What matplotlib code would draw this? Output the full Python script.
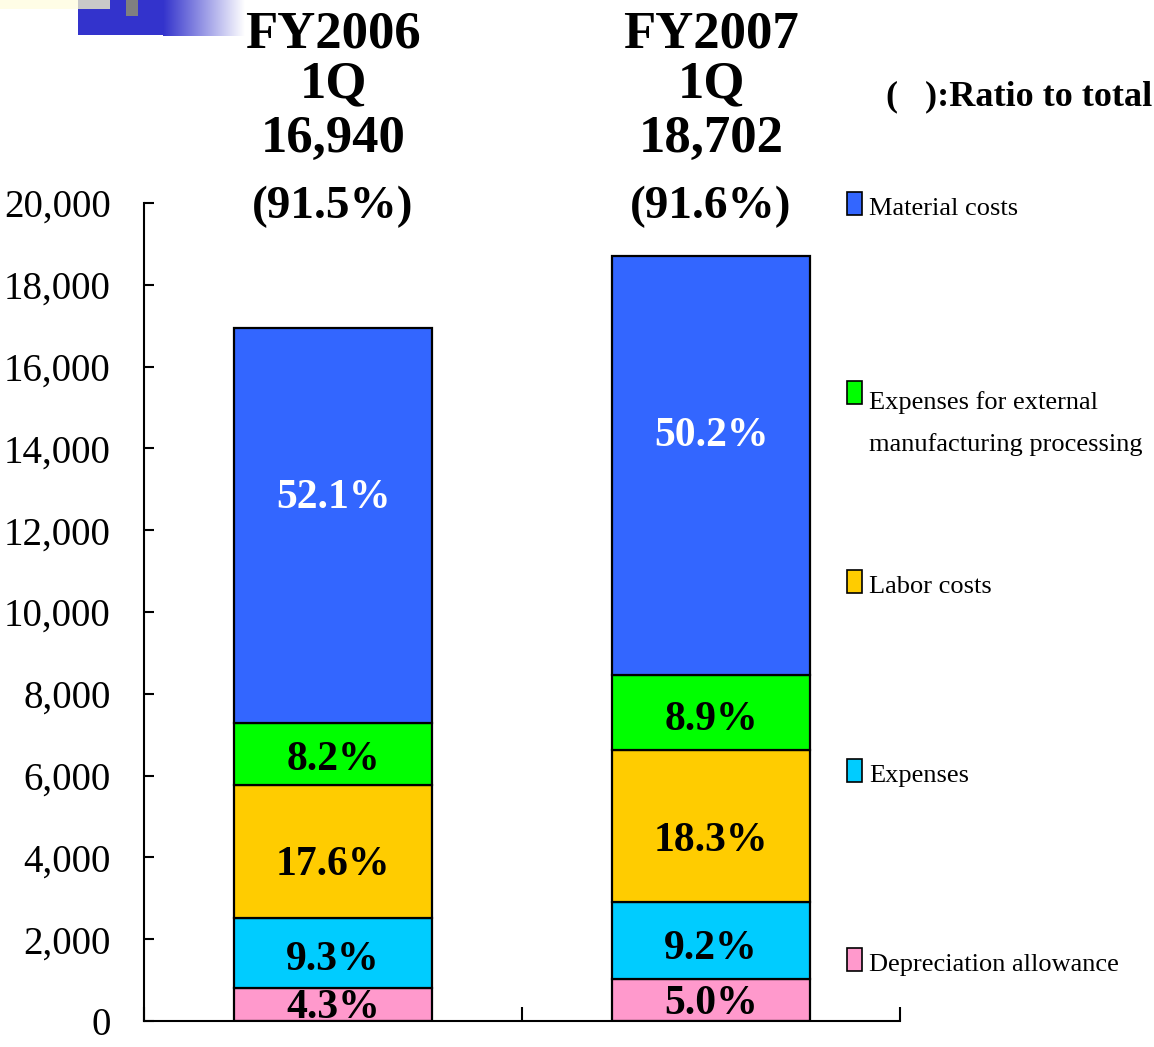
import numpy as np
import matplotlib.pyplot as plt
from matplotlib.patches import Rectangle
from matplotlib.ticker import FuncFormatter
import matplotlib.transforms as mtransforms

# header data
periods = ['FY2006', 'FY2007']
quarters = ['1Q', '1Q']
totals = [16940, 18702]
total_ratio = [91.5, 91.6]

# stacked series, bottom to top
series_names = ['Depreciation allowance', 'Expenses', 'Labor costs',
                'Expenses for external\nmanufacturing processing', 'Material costs']
depreciation = [796, 1021]
expenses = [1722, 1878]
labor = [3258, 3736]
external = [1518, 1817]
material = [9646, 10250]
series_values = [depreciation, expenses, labor, external, material]

pct_depreciation = [4.3, 5.0]
pct_expenses = [9.3, 9.2]
pct_labor = [17.6, 18.3]
pct_external = [8.2, 8.9]
pct_material = [52.1, 50.2]
series_pcts = [pct_depreciation, pct_expenses, pct_labor, pct_external, pct_material]

colors = ['#FF99CC', '#00CCFF', '#FFCC00', '#00FF00', '#3366FF']
label_colors = ['black', 'black', 'black', 'black', 'white']

W, H = 1154, 1047
SERIF = ['Liberation Serif', 'DejaVu Serif']
plt.rcParams['font.family'] = SERIF


def fx(px):
    return px / W


def fy(py):
    return 1 - py / H


fig = plt.figure(figsize=(W / 100, H / 100), dpi=100)
ax = fig.add_axes([fx(144), fy(1021), fx(900) - fx(144), fy(203) - fy(1021)])

x = np.arange(len(periods))
bottom = np.zeros(len(periods))
for i, (vals, pcts, col, lcol) in enumerate(zip(series_values, series_pcts,
                                                colors, label_colors)):
    vals = np.array(vals, dtype=float)
    ax.bar(x, vals, 0.526, bottom=bottom, color=col, edgecolor='black', linewidth=1.6)
    frac = 0.57 if i == len(series_values) - 1 else 0.40
    for xi, b, v, p in zip(x, bottom, vals, pcts):
        ax.text(xi, b + v * frac, f'{p:.1f}%', ha='center', va='center',
                fontsize=30, fontweight='bold', color=lcol, clip_on=True)
    bottom += vals

ax.set_xlim(-0.5, 1.5)
ax.set_ylim(0, 20000)
ax.set_yticks(np.arange(0, 20001, 2000))
ax.yaxis.set_major_formatter(FuncFormatter(lambda v, _: f'{int(v):,}'))
ax.set_xticks([-0.5, 0.5, 1.5])
ax.set_xticklabels([])
ax.tick_params(axis='y', direction='in', length=7, width=1.5, labelsize=28, pad=24)
ax.tick_params(axis='x', direction='in', length=10, width=1.5)
for s in ['top', 'right']:
    ax.spines[s].set_visible(False)
for s in ['left', 'bottom']:
    ax.spines[s].set_linewidth(1.5)

# headers above bars
trans = mtransforms.blended_transform_factory(ax.transData, fig.transFigure)
for xi, per, q, tot, r in zip(x, periods, quarters, totals, total_ratio):
    ax.text(xi, fy(48), per, transform=trans, ha='center', va='baseline',
            fontsize=38, fontweight='bold', clip_on=False)
    ax.text(xi, fy(97), q, transform=trans, ha='center', va='baseline',
            fontsize=38, fontweight='bold', clip_on=False)
    ax.text(xi, fy(152), f'{tot:,}', transform=trans, ha='center', va='baseline',
            fontsize=38, fontweight='bold', clip_on=False)
    ax.text(xi, fy(218), f'({r:.1f}%)', transform=trans, ha='center', va='baseline',
            fontsize=34, fontweight='bold', clip_on=False)

fig.text(fx(1152), fy(97), '(   ):Ratio to total', ha='right', va='center',
         fontsize=26, fontweight='bold')

# legend, top entry first
for k, (name, col) in enumerate(zip(series_names[::-1], colors[::-1])):
    base = 215 + 189 * k
    fig.patches.append(Rectangle((fx(847), fy(base)), fx(15), 23 / H, facecolor=col,
                                 edgecolor='black', linewidth=1.2,
                                 transform=fig.transFigure))
    extra = 47 * name.count('\n')
    fig.text(fx(869), fy(base + extra), name, ha='left', va='baseline', fontsize=19,
             linespacing=2.05)

# decoration at top-left
fig.patches.append(Rectangle((0, fy(9)), fx(78), 9 / H, facecolor='#FFFDE6',
                             edgecolor='none', transform=fig.transFigure))
fig.patches.append(Rectangle((fx(78), fy(35)), fx(85), 35 / H, facecolor='#3333CC',
                             edgecolor='none', transform=fig.transFigure))
fig.patches.append(Rectangle((fx(78), fy(9)), fx(32), 9 / H, facecolor='#C8C8C8',
                             edgecolor='none', transform=fig.transFigure))
fig.patches.append(Rectangle((fx(126), fy(16)), fx(12), 16 / H, facecolor='#808080',
                             edgecolor='none', transform=fig.transFigure))
gax = fig.add_axes([fx(163), fy(36), fx(82), 36 / H])
grad = np.linspace(0, 1, 256)[None, :]
rgb = np.zeros((1, 256, 3))
start = np.array([0x33, 0x33, 0xCC]) / 255
for c in range(3):
    rgb[0, :, c] = start[c] + (1 - start[c]) * grad[0]
gax.imshow(rgb, aspect='auto', extent=[0, 1, 0, 1])
gax.axis('off')

fig.savefig('out.png', dpi=100)
